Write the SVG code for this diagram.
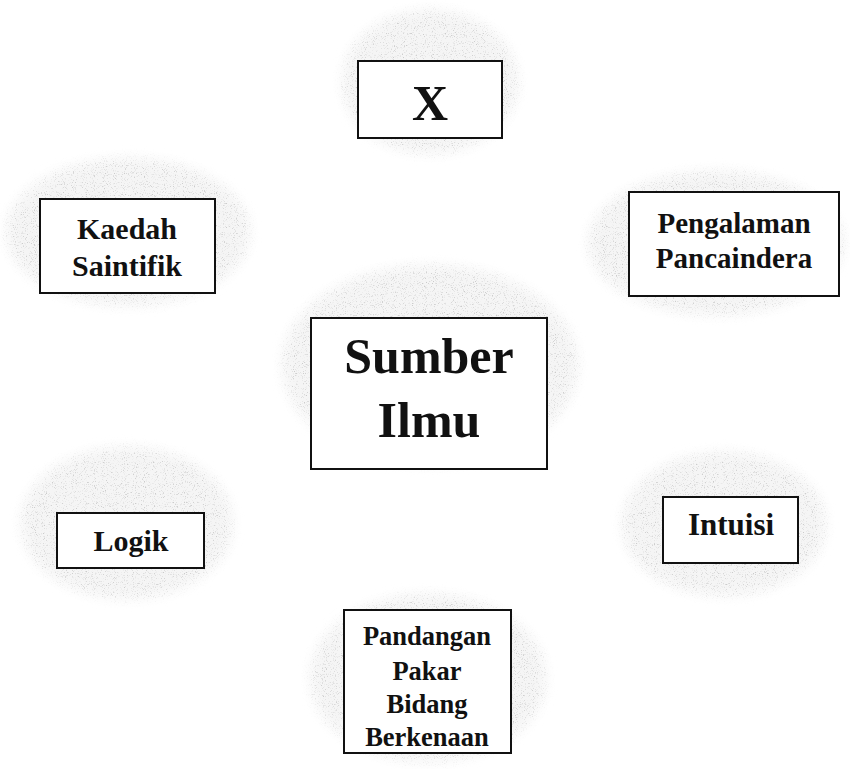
<svg xmlns="http://www.w3.org/2000/svg" width="850" height="769" viewBox="0 0 850 769">
<style>
.box{fill:#fff;stroke:#111;stroke-width:2}
.t{font-family:"Liberation Serif","Times New Roman",serif;font-weight:bold;fill:#111;text-anchor:middle}
.blob{fill:#000}
</style>
<defs>
<filter id="speck" x="-15%" y="-15%" width="130%" height="130%">
<feGaussianBlur in="SourceAlpha" stdDeviation="6" result="mask"/>
<feTurbulence type="fractalNoise" baseFrequency="0.9" numOctaves="2" seed="7" result="n"/>
<feColorMatrix in="n" type="matrix" values="0 0 0 0 0.6  0 0 0 0 0.6  0 0 0 0 0.6  4 0 0 0 -2.25" result="dots"/>
<feFlood flood-color="#efefef" flood-opacity="0.6" result="base"/>
<feMerge result="m"><feMergeNode in="base"/><feMergeNode in="dots"/></feMerge>
<feComposite in="m" in2="mask" operator="in"/>
</filter>
</defs>
<rect width="850" height="769" fill="#fff"/>
<g id="blobs" filter="url(#speck)">
<ellipse class="blob" cx="430" cy="365" rx="148" ry="100"/>
<ellipse class="blob" cx="430" cy="82" rx="88" ry="72"/>
<ellipse class="blob" cx="128" cy="232" rx="122" ry="74"/>
<ellipse class="blob" cx="716" cy="243" rx="128" ry="72"/>
<ellipse class="blob" cx="127" cy="523" rx="106" ry="76"/>
<ellipse class="blob" cx="724" cy="524" rx="102" ry="72"/>
<ellipse class="blob" cx="428" cy="678" rx="118" ry="84"/>
</g>
<g id="connectors"></g>
<g id="n-center">
<rect class="box" x="311" y="318" width="236" height="151"/>
<text class="t" x="429" y="373" font-size="50">Sumber</text>
<text class="t" x="429" y="437" font-size="50">Ilmu</text>
</g>
<g id="n-x">
<rect class="box" x="358" y="61" width="144" height="77"/>
<text class="t" x="430" y="120" font-size="50">X</text>
</g>
<g id="n-kaedah">
<rect class="box" x="40" y="199" width="175" height="94"/>
<text class="t" x="127" y="239" font-size="30">Kaedah</text>
<text class="t" x="127" y="276" font-size="30">Saintifik</text>
</g>
<g id="n-pengalaman">
<rect class="box" x="629" y="192" width="210" height="104"/>
<text class="t" x="734" y="233" font-size="29">Pengalaman</text>
<text class="t" x="734" y="268" font-size="29">Pancaindera</text>
</g>
<g id="n-logik">
<rect class="box" x="57" y="513" width="147" height="55"/>
<text class="t" x="131" y="551" font-size="30">Logik</text>
</g>
<g id="n-intuisi">
<rect class="box" x="663" y="497" width="135" height="66"/>
<text class="t" x="731" y="535" font-size="31">Intuisi</text>
</g>
<g id="n-pandangan">
<rect class="box" x="344" y="610" width="167" height="143"/>
<text class="t" x="427" y="645" font-size="26.5">Pandangan</text>
<text class="t" x="427" y="680" font-size="26.5">Pakar</text>
<text class="t" x="427" y="713" font-size="26.5">Bidang</text>
<text class="t" x="427" y="746" font-size="26.5">Berkenaan</text>
</g>
</svg>
